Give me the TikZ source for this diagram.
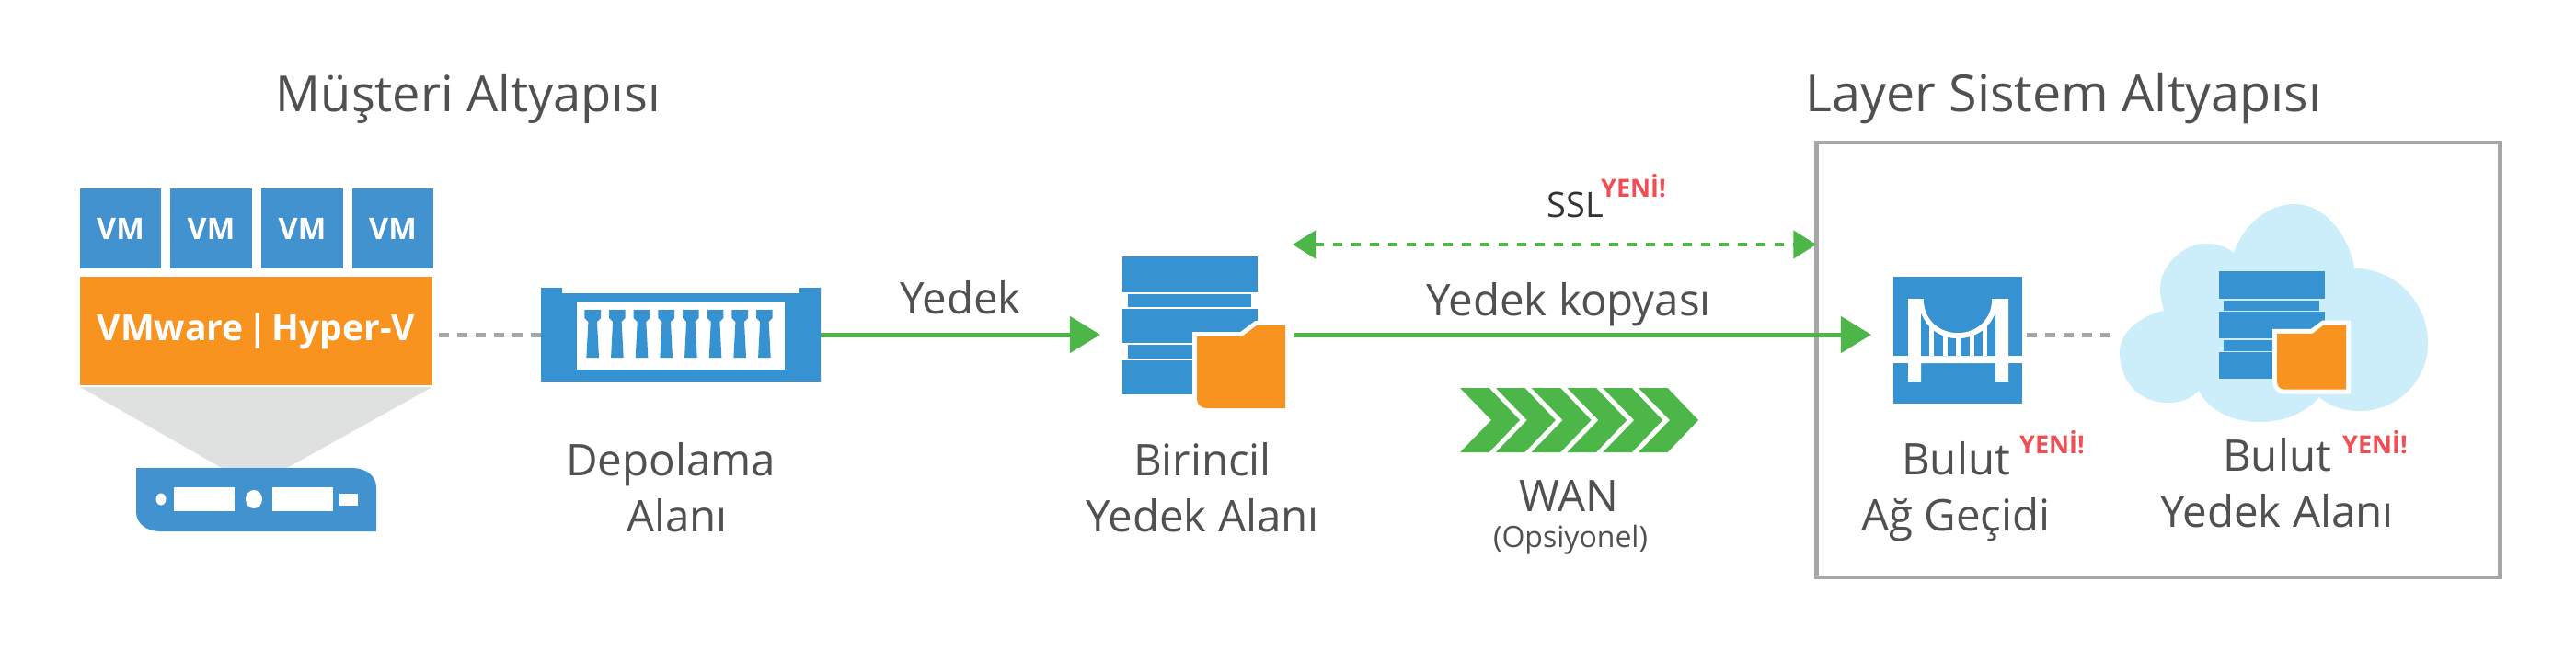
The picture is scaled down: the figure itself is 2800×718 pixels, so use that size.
\documentclass[tikz,border=0pt]{standalone}
\usepackage{fontspec}
\setmainfont{Open Sans}
\usetikzlibrary{arrows.meta}
\definecolor{vmblue}{HTML}{4292D0}
\definecolor{iconblue}{HTML}{3792D2}
\definecolor{boxorange}{HTML}{F7931E}
\definecolor{linegreen}{HTML}{4CB748}
\definecolor{dotgray}{HTML}{A6A6A6}
\definecolor{basegray}{HTML}{DFE1E0}
\definecolor{cloudblue}{HTML}{CCEDFA}
\definecolor{textgray}{HTML}{505050}
\definecolor{newred}{HTML}{F04E55}
\tikzset{
  titlelabel/.style={font=\fontsize{15.4}{20}\selectfont,text=textgray,anchor=base,inner sep=0},
  iconlabel/.style={font=\fontsize{13.5}{17.07}\selectfont,text=textgray,anchor=base,align=center,inner sep=0},
  newlabel/.style={font=\fontsize{7.7}{9}\selectfont\bfseries,text=newred,anchor=base,inner sep=0},
  hidden/.style={inner sep=0,outer sep=0},
  dotline/.style={dotgray,line width=.05cm,dash pattern=on .11cm off .09cm},
  copyline/.style={linegreen,line width=.05cm,-{Triangle[length=.33cm,width=.39cm]}},
  ssl line/.style={linegreen,line width=.045cm,dash pattern=on .1cm off .1cm,
    {Triangle[length=.25cm,width=.3cm]}-{Triangle[length=.25cm,width=.3cm]}}
}
% stack of disks with a folder
\newcommand{\BackupStack}[3]{
\begin{scope}[shift={(#1,#2)},scale=#3]
\fill [iconblue] (0,0) rectangle (147,39);
\fill [iconblue] (6,41) rectangle (140,55);
\fill [iconblue] (0,57) rectangle (147,94);
\fill [iconblue] (6,96) rectangle (140,111);
\fill [iconblue] (0,113) rectangle (147,150);
\fill [boxorange,preaction={draw=white,line width=.1cm}]
  (81,87) -- (130,87) -- (146,75) -- (177,75) -- (177,165) -- (91,165)
  .. controls (85,165) and (81,160) .. (81,155) -- cycle;
\end{scope}
}
\begin{document}
\begin{tikzpicture}[x=.01cm,y=-.01cm]
\useasboundingbox (0,0) rectangle (2800,718);

% cloud side frame
\node [draw=dotgray,line width=.045cm,minimum width=7.425cm,minimum height=4.73cm,hidden] (layerbox) at (2345.75,391.5) {};

% titles
\node [titlelabel] (musteri) at (509,121) {Müşteri Altyapısı};
\node [titlelabel,font=\fontsize{15.8}{20}\selectfont] (layer) at (2243,121) {Layer Sistem Altyapısı};

% virtual machines
\foreach \vmx/\vmname in {131/vma,229.5/vmb,328.5/vmc,427/vmd}
  \node [fill=vmblue,minimum width=.88cm,minimum height=.87cm,hidden,text=white,
         font=\fontsize{9.2}{12}\selectfont\bfseries] (\vmname) at (\vmx,248.5) {VM};

% hypervisor
\node [fill=boxorange,minimum width=3.83cm,minimum height=1.18cm,hidden,text=white,
       font=\fontsize{11.1}{14}\selectfont\bfseries] (hyper) at (278.5,360) {\spaceskip=.12em VMware | Hyper-V};
\fill [basegray] (87,421) -- (470,421) -- (312,509) -- (241,509) -- cycle;

% server
\fill [vmblue] (148,509) -- (383,509) .. controls (398,509) and (409,518) .. (409,530)
  -- (409,578) -- (174,578) .. controls (159,578) and (148,569) .. (148,557) -- cycle;
\fill [white] (175,543) ellipse [x radius=5.5,y radius=6.5];
\fill [white] (189,530) rectangle (255,556);
\fill [white] (276,543) ellipse [x radius=9,y radius=10];
\fill [white] (296,530) rectangle (362,556);
\fill [white] (369,537) rectangle (389,550);

% storage
\node [hidden,minimum width=3.04cm,minimum height=1.02cm] (storage) at (740,364) {};
\fill [iconblue] (588,313) -- (611,313) -- (611,319) -- (869,319) -- (869,313) -- (892,313)
  -- (892,415) -- (588,415) -- cycle;
\fill [white] (627,328) rectangle (853,402);
\foreach \i in {0,...,7}
  \fill [iconblue,shift={(644.2+26.67*\i,0)}]
    (-8.8,337) -- (8.8,337) -- (8.8,346) -- (4.8,350) -- (6.8,389) -- (-6.8,389) -- (-4.8,350) -- (-8.8,346) -- cycle;
\node [iconlabel] (storagelabel) at (729,578) {Depolama\\\hspace*{.14cm}Alanı};

% primary repository
\node [hidden,minimum width=1.77cm,minimum height=1.65cm] (primary) at (1308.5,364) {};
\BackupStack{1220}{279}{1}
\node [iconlabel] (primarylabel) at (1307,578) {Birincil\\Yedek Alanı};

% wan
\foreach \i in {0,...,5}
  \fill [linegreen,shift={(1587+38.8*\i,457)}]
    (0,-35) -- (31.6,-35) -- (65,0) -- (31.6,35) -- (0,35) -- (34,0) -- cycle;
\node [iconlabel] (wan) at (1705,556) {WAN};
\node [iconlabel,font=\fontsize{9.1}{11}\selectfont] (wanopt) at (1707,595) {(Opsiyonel)};

% gateway
\node [fill=iconblue,minimum width=1.4cm,minimum height=1.38cm,hidden] (gateway) at (2128,370) {};
\fill [white] (2074,325) -- (2091,325) .. controls (2091,348) and (2108,362) .. (2128,362)
  .. controls (2148,362) and (2165,348) .. (2165,325) -- (2183,325) -- (2183,415) -- (2169,415)
  -- (2169,395) -- (2088,395) -- (2088,415) -- (2074,415) -- cycle;
\fill [white] (2058,387) rectangle (2198,395);
\fill [iconblue] (2088,340) .. controls (2095,358) and (2110,368) .. (2128,368)
  .. controls (2146,368) and (2162,358) .. (2169,340) -- (2169,387) -- (2088,387) -- cycle;
\foreach \hangx in {2097,2112,2126,2141,2155}
  \fill [white] (\hangx,340) rectangle (\hangx+5,387);
\fill [white] (2088,325) .. controls (2091,348) and (2108,362) .. (2128,362)
  .. controls (2148,362) and (2165,348) .. (2169,325) -- (2169,340)
  .. controls (2162,358) and (2146,368) .. (2128,368)
  .. controls (2110,368) and (2095,358) .. (2088,340) -- cycle;
\fill [iconblue] (2091,325) .. controls (2091,348) and (2108,362) .. (2128,362)
  .. controls (2148,362) and (2165,348) .. (2165,325) -- cycle;
\node [iconlabel] (gatewaylabel) at (2126,577) {Bulut\\Ağ Geçidi};
\node [newlabel] (gatewaynew) at (2230.5,493) {YENİ!};

% cloud repository
\node [hidden,minimum width=3.35cm,minimum height=2.37cm] (cloud) at (2471.5,364) {};
\fill [cloudblue] (2390,425) .. controls (2380,435) and (2370,438) .. (2356,438)
  .. controls (2325,438) and (2304,415) .. (2304,383)
  .. controls (2304,360) and (2330,342) .. (2352,338)
  .. controls (2349,328) and (2348,320) .. (2348,313)
  .. controls (2348,290) and (2372,265) .. (2397,265)
  .. controls (2410,265) and (2420,268) .. (2428,275)
  .. controls (2438,245) and (2465,222) .. (2494,222)
  .. controls (2530,222) and (2555,262) .. (2559,292)
  .. controls (2605,292) and (2639,330) .. (2639,373)
  .. controls (2639,415) and (2605,447) .. (2565,447)
  .. controls (2548,447) and (2532,442) .. (2521,432)
  .. controls (2505,450) and (2482,459) .. (2456,459)
  .. controls (2428,459) and (2402,448) .. (2390,425) -- cycle;
\BackupStack{2412}{295}{.78}
\node [iconlabel] (cloudlabel) at (2475,573) {Bulut\\Yedek Alanı};
\node [newlabel] (cloudnew) at (2581.5,493) {YENİ!};

% connectors
\draw [dotline,shorten <=.07cm] (hyper.east |- storage.west) -- (storage.west);
\draw [copyline,shorten >=.24cm] (storage.east) -- (primary.west);
\node [iconlabel] (yedek) at (1044,341) {Yedek};
\draw [copyline,shorten <=.09cm,shorten >=.24cm] (primary.east) -- (primary.east -| gateway.west);
\node [iconlabel] (kopya) at (1705,343) {Yedek kopyası};
\draw [dotline,shorten <=.05cm,shorten >=.09cm] (gateway.east |- cloud.west) -- (cloud.west);
\coordinate (sslleft) at (1405,266);
\draw [ssl line] (sslleft) -- (sslleft -| layerbox.west);
\node [iconlabel,font=\fontsize{10.8}{13}\selectfont,text=black!80] (ssl) at (1712,236) {SSL};
\node [newlabel] (sslnew) at (1775.5,214) {YENİ!};
\end{tikzpicture}
\end{document}
